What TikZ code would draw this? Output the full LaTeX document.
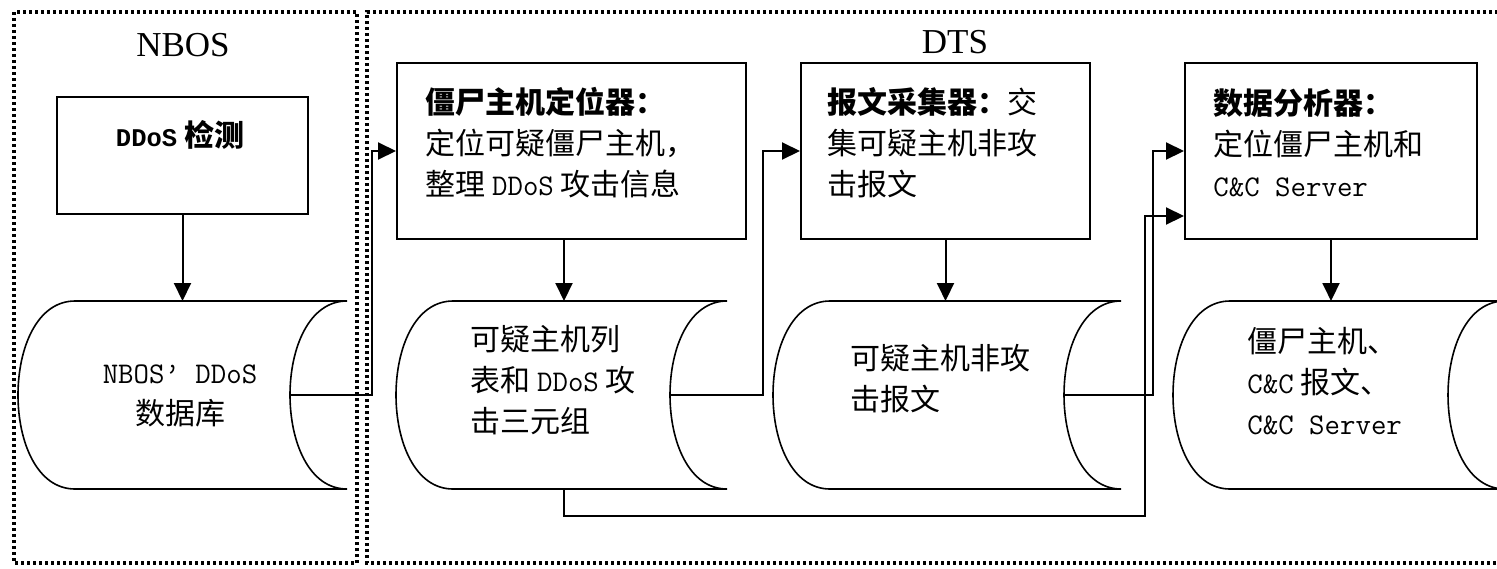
\documentclass[tikz,border=0pt]{standalone}
\usepackage{fontspec}
\setmainfont{Liberation Serif}
\newfontfamily\cjk{Noto Sans CJK SC}
\newfontfamily\mono{Latin Modern Mono}
\newfontfamily\monob[Scale=0.85]{Liberation Mono}
\usetikzlibrary{arrows.meta}
\begin{document}
\begin{tikzpicture}[x=0.5pt,y=-0.5pt,
  frame/.style={line width=1.6pt, dash pattern=on 1.5pt off 1.5pt},
  box/.style={draw, line width=1pt, inner sep=0pt},
  cyl/.style={draw, line width=0.8pt},
  arr/.style={line width=1pt, -{Triangle[length=9pt,width=8.5pt]}},
  con/.style={line width=1pt},
  txt/.style={font=\cjk\fontsize{15}{20.5}\selectfont, align=left, inner sep=0pt},
  ttl/.style={font=\fontsize{17.5}{20}\selectfont, inner sep=0pt}]
\useasboundingbox (0,0) rectangle (1497,568);
\clip (0,0) rectangle (1497,568);

% frames
\draw[frame] (14,12) rectangle (357,563);
\draw[frame] (1510,12) -- (367,12) -- (367,563) -- (1510,563);
\node[ttl] (lnbos) at (183,45) {NBOS};
\node[ttl] (ldts) at (955,42) {DTS};

% boxes
\node[box, minimum width=125.5pt, minimum height=58.5pt] (b1) at (182.5,155.5) {};
\node[box, minimum width=174.5pt, minimum height=88pt] (b2) at (571.5,151) {};
\node[box, minimum width=144.5pt, minimum height=88pt] (b3) at (945.5,151) {};
\node[box, minimum width=146pt, minimum height=88pt] (b4) at (1331,151) {};

\node[txt, align=center] (t1) at (180,135) {\bfseries{\monob DDoS} 检测};
\node[txt, anchor=west] (t2) at (425,143) {{\bfseries 僵尸主机定位器：}\\定位可疑僵尸主机，\\整理 {\mono DDoS} 攻击信息};
\node[txt, anchor=west] (t3) at (827,143) {{\bfseries 报文采集器：}交\\集可疑主机非攻\\击报文};
\node[txt, anchor=west] (t4) at (1213,143) {{\bfseries 数据分析器：}\\定位僵尸主机和\\{\mono C\&C Server}};

% stored-data shapes
\draw[cyl] (75,301) -- (347,301) .. controls (271,301) and (271,489) .. (347,489)
  -- (75,489) .. controls (-1,489) and (-1,301) .. (75,301) -- cycle;
\draw[cyl] (453,301) -- (727,301) .. controls (651,301) and (651,489) .. (727,489)
  -- (453,489) .. controls (377,489) and (377,301) .. (453,301) -- cycle;
\draw[cyl] (830,301) -- (1121,301) .. controls (1045,301) and (1045,489) .. (1121,489)
  -- (830,489) .. controls (754,489) and (754,301) .. (830,301) -- cycle;
\draw[cyl] (1230,301) -- (1505,301) .. controls (1429,301) and (1429,489) .. (1505,489)
  -- (1230,489) .. controls (1154,489) and (1154,301) .. (1230,301) -- cycle;

\coordinate (c1t) at (182.5,301);
\coordinate (c2t) at (564,301);
\coordinate (c3t) at (945.5,301);
\coordinate (c4t) at (1331,301);
\coordinate (c1r) at (290,395);
\coordinate (c2r) at (670,395);
\coordinate (c3r) at (1064,395);
\coordinate (c2b) at (564,489);

\node[txt, align=center] (d1) at (180,396) {{\mono NBOS’ DDoS}\\数据库};
\node[txt, anchor=west] (d2) at (470,380) {可疑主机列\\表和 {\mono DDoS} 攻\\击三元组};
\node[txt, anchor=west] (d3) at (850,379) {可疑主机非攻\\击报文};
\node[txt, anchor=west] (d4) at (1247,381) {僵尸主机、\\{\mono C\&C} 报文、\\{\mono C\&C Server}};

% connectors
\draw[arr] (b1.south) -- (c1t);
\draw[arr] (c2t |- b2.south) -- (c2t);
\draw[arr] (b3.south) -- (c3t);
\draw[arr] (b4.south) -- (c4t);

\draw[arr] (c1r) -- (372,395) -- (372,151) -- (b2.west);
\draw[arr] (c2r) -- (763,395) -- (763,151) -- (b3.west);
\draw[arr] (c3r) -- (1153,395) -- (1153,151) -- (b4.west);
\draw[arr] (c2b) -- (564,516) -- (1145,516) -- (1145,216) -- ([yshift=-32.5pt]b4.west);
\end{tikzpicture}
\end{document}
